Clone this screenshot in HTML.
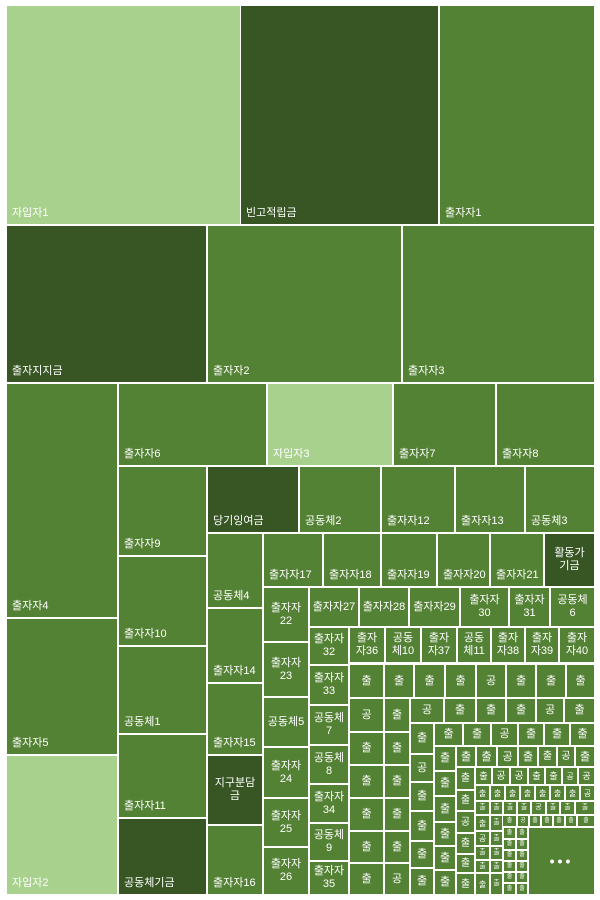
<!DOCTYPE html>
<html><head><meta charset="utf-8">
<style>
html,body{margin:0;padding:0;background:#fff;}
#c{position:relative;width:600px;height:900px;background:#fff;overflow:hidden;font-family:"Liberation Sans","Noto Sans CJK KR","NanumGothic",sans-serif;}
.r{position:absolute;box-sizing:border-box;color:#fff;font-size:11px;line-height:13px;overflow:hidden;}
.bl{display:flex;align-items:flex-end;padding:0 0 4px 5px;}
.c{display:flex;align-items:center;justify-content:center;text-align:center;}
</style></head><body><div id="c"></div>
<script>
var L='#a9d18e',M='#548235',D='#375623';
var cells=[
[7,6,240,224,L,'자입자1','bl'],[241,6,438,224,D,'빈고적립금','bl'],[440,6,594,224,M,'출자자1','bl'],
[7,226,206,382,D,'출자지지금','bl'],[208,226,401,382,M,'출자자2','bl'],[403,226,594,382,M,'출자자3','bl'],
[7,384,117,617,M,'출자자4','bl'],[7,619,117,754,M,'출자자5','bl'],[7,756,117,894,L,'자입자2','bl'],
[119,384,266,465,M,'출자자6','bl'],[268,384,392,465,L,'자입자3','bl'],[394,384,495,465,M,'출자자7','bl'],[497,384,594,465,M,'출자자8','bl'],
[119,467,206,555,M,'출자자9','bl'],[119,557,206,645,M,'출자자10','bl'],[119,647,206,733,M,'공동체1','bl'],[119,735,206,817,M,'출자자11','bl'],[119,819,206,894,D,'공동체기금','bl'],
[208,467,298,532,D,'당기잉여금','bl'],[300,467,380,532,M,'공동체2','bl'],[382,467,454,532,M,'출자자12','bl'],[456,467,524,532,M,'출자자13','bl'],[526,467,594,532,M,'공동체3','bl'],
[208,534,262,607,M,'공동체4','bl'],[208,609,262,682,M,'출자자14','bl'],[208,684,262,754,M,'출자자15','bl'],[208,756,262,824,D,'지구분담<br>금','c'],[208,826,262,894,M,'출자자16','bl'],
[264,534,322,586,M,'출자자17','bl'],[324,534,380,586,M,'출자자18','bl'],[382,534,436,586,M,'출자자19','bl'],[438,534,489,586,M,'출자자20','bl'],[491,534,543,586,M,'출자자21','bl'],[545,534,594,586,D,'활동가<br>기금','c'],
[264,588,308,641,M,'출자자<br>22','c'],[264,643,308,696,M,'출자자<br>23','c'],[264,698,308,746,M,'공동체5','c'],[264,748,308,797,M,'출자자<br>24','c'],[264,799,308,846,M,'출자자<br>25','c'],[264,848,308,894,M,'출자자<br>26','c'],
[310,588,358,626,M,'출자자27','c'],[360,588,408,626,M,'출자자28','c'],[410,588,459,626,M,'출자자29','c'],[461,588,508,626,M,'출자자<br>30','c'],[510,588,549,626,M,'출자자<br>31','c'],[551,588,594,626,M,'공동체<br>6','c'],
[310,628,348,664,M,'출자자<br>32','c'],[310,666,348,704,M,'출자자<br>33','c'],[310,706,348,744,M,'공동체<br>7','c'],[310,746,348,783,M,'공동체<br>8','c'],[310,785,348,822,M,'출자자<br>34','c'],[310,824,348,860,M,'공동체<br>9','c'],[310,862,348,894,M,'출자자<br>35','c'],
[350,628,384,662,M,'출자<br>자36','c'],[386,628,420,662,M,'공동<br>체10','c'],[422,628,456,662,M,'출자<br>자37','c'],[458,628,490,662,M,'공동<br>체11','c'],[492,628,524,662,M,'출자<br>자38','c'],[526,628,558,662,M,'출자<br>자39','c'],[560,628,594,662,M,'출자<br>자40','c']
];
function row(xs,y1,y2,labs){for(var i=0;i<xs.length;i++)cells.push([xs[i][0],y1,xs[i][1],y2,M,labs[i],'c']);}
function col(x1,x2,ys,labs){for(var i=0;i<ys.length;i++)cells.push([x1,ys[i][0],x2,ys[i][1],M,labs[i],'c']);}
row([[350,383],[385,413],[415,444],[446,475],[477,505],[507,535],[537,565],[567,594]],665,697,['출','출','출','출','공','출','출','출']);
col(350,383,[[699,731],[733,764],[766,797],[799,830],[832,862],[864,894]],['공','출','출','출','출','출']);
col(385,409,[[699,731],[733,764],[766,797],[799,830],[832,862],[864,894]],['출','출','출','출','출','공']);
row([[411,443],[445,475],[477,505],[507,535],[537,563],[565,594]],699,722,['공','출','출','출','공','출']);
col(411,433,[[724,753],[755,781],[783,810],[812,840],[842,867],[869,894]],['출','공','출','출','출','출']);
row([[435,462],[464,490],[492,517],[519,543],[545,569],[571,594]],724,745,['출','출','공','출','출','출']);
col(435,455,[[747,770],[772,795],[797,821],[823,845],[847,869],[871,894]],['출','출','출','출','출','출']);
row([[457,475],[477,496],[498,517],[519,537],[539,556],[558,574],[576,594]],747,766,['출','출','공','출','출','공','출']);
col(457,474,[[768,789],[791,810],[812,832],[834,853],[855,872],[874,894]],['출','출','공','출','출','출']);
row([[476,491],[493,509],[511,527],[529,544],[546,561],[563,577],[579,594]],768,784,['출','공','공','출','출','공','공']);
row([[476,489],[491,504],[506,519],[521,534],[536,549],[551,564],[566,579],[581,594]],786,800,['출','출','출','출','출','출','출','공']);
row([[476,489],[491,502],[504,516],[518,530],[532,545],[547,559],[561,574],[576,594]],802,814,['출','출','출','출','공','출','출','출']);
row([[503,516],[518,528],[530,540],[542,552],[554,564],[566,576],[578,594]],816,826,['출','공','출','출','출','출','출']);
col(476,489,[[816,830],[832,845],[847,859],[861,872],[874,894]],['출','공','출','출','출']);
col(491,502,[[816,830],[832,845],[847,859],[861,872],[874,894]],['출','출','출','출','출']);
col(504,515,[[828,838],[840,849],[851,860],[862,871],[873,882],[884,894]],['출','출','출','출','출','출']);
col(517,527,[[828,838],[840,849],[851,860],[862,871],[873,882],[884,894]],['출','출','출','출','출','출']);
cells.push([529,828,594,894,M,'<span style="font-size:14px;letter-spacing:3px;font-weight:bold">•••</span>','c']);
var c=document.getElementById('c'),h='';
cells.forEach(function(a){var w=a[2]-a[0],hh=a[3]-a[1];var m=Math.min(w,hh);
var fs=m<30?Math.max(6,Math.round(m*0.6)):11;var st=m<30?'font-size:'+Math.min(11,fs)+'px;line-height:'+Math.min(13,fs+1)+'px;':'';
h+='<div class="r '+a[6]+'" style="'+st+'left:'+a[0]+'px;top:'+a[1]+'px;width:'+w+'px;height:'+hh+'px;background:'+a[4]+'">'+a[5]+'</div>';});
c.innerHTML=h;
</script></body></html>
